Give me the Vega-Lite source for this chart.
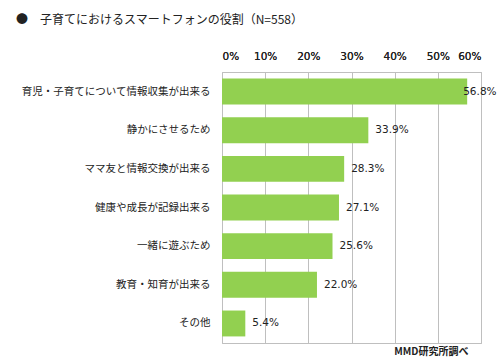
{
  "$schema": "https://vega.github.io/schema/vega-lite/v6.json",
  "width": 259,
  "height": 271,
  "autosize": "none",
  "padding": {"left": 222, "top": 72, "right": 19, "bottom": 18},
  "background": "white",
  "config": {
    "font": "Noto Sans CJK JP",
    "view": {"stroke": "#bfbfbf", "strokeWidth": 1},
    "axis": {"labelColor": "#222", "titleColor": "#222", "labelFontWeight": "normal"}
  },
  "title": {
    "text": "●　子育てにおけるスマートフォンの役割（N=558）",
    "anchor": "start",
    "frame": "group",
    "fontSize": 12,
    "fontWeight": "normal",
    "color": "#222",
    "dx": -206,
    "offset": 24
  },
  "data": {
    "values": [
      {"item": "育児・子育てについて情報収集が出来る", "value": 56.8},
      {"item": "静かにさせるため", "value": 33.9},
      {"item": "ママ友と情報交換が出来る", "value": 28.3},
      {"item": "健康や成長が記録出来る", "value": 27.1},
      {"item": "一緒に遊ぶため", "value": 25.6},
      {"item": "教育・知育が出来る", "value": 22.0},
      {"item": "その他", "value": 5.4}
    ]
  },
  "transform": [{"calculate": "format(datum.value, '.1f') + '%'", "as": "label"}],
  "encoding": {
    "y": {
      "field": "item",
      "type": "nominal",
      "sort": null,
      "scale": {"paddingInner": 0.33, "paddingOuter": 0.17},
      "axis": {
        "title": null,
        "ticks": false,
        "domain": false,
        "labelFontSize": 10.5,
        "labelPadding": 12,
        "labelLimit": 220
      }
    },
    "x": {
      "field": "value",
      "type": "quantitative",
      "scale": {"domain": [0, 60]},
      "axis": {
        "orient": "top",
        "title": null,
        "values": [0, 10, 20, 30, 40, 50, 60],
        "labelExpr": "datum.value + '%'",
        "labelFont": "DejaVu Sans",
        "labelFontSize": 10.5,
        "labelPadding": 11,
        "ticks": false,
        "domain": false,
        "grid": true,
        "gridColor": "#bfbfbf",
        "gridOpacity": 1
      }
    }
  },
  "layer": [
    {"mark": {"type": "bar", "color": "#92d050"}},
    {
      "transform": [{"filter": "datum.value < 50"}],
      "mark": {"type": "text", "align": "left", "dx": 7, "font": "DejaVu Sans", "fontSize": 10.5, "color": "#222"},
      "encoding": {"text": {"field": "label", "type": "nominal"}}
    },
    {
      "transform": [{"filter": "datum.value >= 50"}],
      "mark": {"type": "text", "align": "left", "dx": -4, "font": "DejaVu Sans", "fontSize": 10.5, "color": "#222"},
      "encoding": {
        "text": {"field": "label", "type": "nominal"},
        "x": {
          "field": "value",
          "type": "quantitative",
          "axis": {
            "orient": "bottom",
            "title": "MMD研究所調べ",
            "titleAlign": "right",
            "titleAnchor": "end",
            "titleBaseline": "middle",
            "titleFontSize": 10,
            "titleFontWeight": "bold",
            "titlePadding": 0,
            "titleX": 246,
            "titleY": 8,
            "labels": false,
            "ticks": false,
            "domain": false,
            "grid": false
          }
        }
      }
    }
  ]
}
